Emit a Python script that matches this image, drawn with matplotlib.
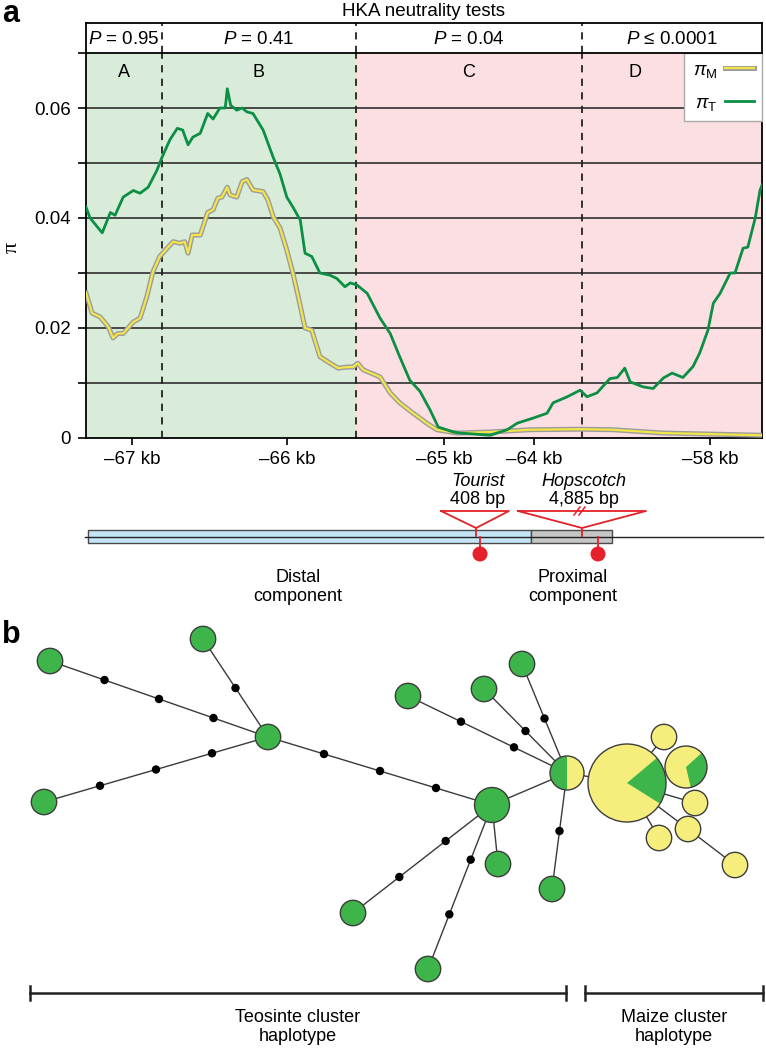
import numpy as np
import matplotlib
matplotlib.use('Agg')
import matplotlib.pyplot as plt
from matplotlib.patches import Circle, Wedge, Rectangle
from matplotlib.lines import Line2D

plt.rcParams['font.family'] = ['Liberation Sans', 'DejaVu Sans']
plt.rcParams['mathtext.fontset'] = 'custom'
plt.rcParams['mathtext.rm'] = 'Liberation Sans'
plt.rcParams['mathtext.it'] = 'Liberation Sans:italic'

# ---- panel a data (position along the window, 0-100) ----
pos_T = [0.0, 0.6, 2.4, 3.6, 4.3, 5.5, 7.0, 8.0, 9.2, 10.5, 11.2, 12.4, 13.5, 14.3,
         15.1, 15.8, 16.9, 18.0, 18.8, 19.8, 20.6, 20.9, 21.4, 22.3, 23.1, 23.8,
         24.7, 26.2, 27.7, 28.7, 29.7, 30.6, 31.7, 32.4, 33.4, 34.6, 36.1, 37.1,
         38.3, 39.1, 40.1, 41.6, 43.5, 45.0, 46.4, 47.9, 49.4, 50.9, 52.1, 54.3,
         55.3, 59.8, 62.3, 63.8, 66.1, 68.2, 69.1, 71.2, 73.1, 74.1, 75.6, 77.5,
         78.6, 79.7, 80.5, 82.4, 83.9, 85.4, 86.7, 88.3, 89.8, 90.8, 92.0, 92.8,
         93.8, 95.3, 96.0, 97.2, 97.9, 99.0, 99.7, 100.0]
pi_T = [0.042, 0.040, 0.0373, 0.041, 0.0405, 0.0438, 0.045, 0.0445, 0.0456, 0.0487,
        0.0509, 0.0542, 0.0563, 0.056, 0.0533, 0.0547, 0.0554, 0.059, 0.058, 0.060,
        0.060, 0.0635, 0.0605, 0.0596, 0.060, 0.0593, 0.059, 0.056, 0.051, 0.048,
        0.0438, 0.042, 0.0396, 0.0336, 0.033, 0.030, 0.0296, 0.029, 0.0275, 0.0282,
        0.0278, 0.0263, 0.0218, 0.019, 0.0148, 0.0105, 0.0085, 0.0051, 0.002, 0.0011,
        0.0009, 0.0005, 0.0015, 0.0027, 0.0036, 0.0045, 0.0064, 0.0075, 0.0087,
        0.0075, 0.0082, 0.0108, 0.011, 0.0127, 0.0102, 0.0093, 0.009, 0.0109, 0.0118,
        0.011, 0.013, 0.0155, 0.0196, 0.0245, 0.0263, 0.030, 0.030, 0.0345, 0.0347,
        0.040, 0.045, 0.046]

pos_M = [0.0, 0.9, 2.1, 3.3, 4.0, 4.7, 5.5, 7.0, 8.0, 9.0, 9.9, 10.9, 12.0, 12.9,
         13.9, 14.6, 15.1, 15.7, 16.9, 17.3, 18.0, 18.8, 19.5, 20.1, 20.9, 21.3,
         22.3, 23.1, 23.8, 24.7, 26.2, 26.9, 27.7, 28.7, 29.7, 30.6, 31.4, 32.4,
         33.4, 34.6, 36.1, 37.3, 38.6, 39.5, 40.2, 41.0, 43.5, 45.0, 46.4, 48.4,
         50.4, 51.9, 54.9, 59.8, 65.7, 73.1, 78.0, 85.4, 92.8, 100.0]
pi_M = [0.0264, 0.0227, 0.022, 0.0202, 0.0182, 0.019, 0.019, 0.0211, 0.0218, 0.0257,
        0.0302, 0.033, 0.0345, 0.0357, 0.0354, 0.0357, 0.0336, 0.0369, 0.0369, 0.0384,
        0.041, 0.0415, 0.0436, 0.0438, 0.0456, 0.0442, 0.0438, 0.0466, 0.047, 0.0451,
        0.0448, 0.0433, 0.0402, 0.0382, 0.0342, 0.030, 0.0257, 0.020, 0.0196, 0.0148,
        0.0136, 0.0127, 0.0129, 0.0129, 0.0136, 0.0124, 0.0111, 0.0082, 0.0064,
        0.0045, 0.0027, 0.0015, 0.0009, 0.0011, 0.0015, 0.0016, 0.0015, 0.0009,
        0.0007, 0.0005]

region_edges = [0.0, 11.2, 39.9, 73.4, 100.0]
region_names = ['A', 'B', 'C', 'D']
p_labels = [r'$P$ = 0.95', r'$P$ = 0.41', r'$P$ = 0.04', r'$P$ ≤ 0.0001']
tick_pos = [6.8, 29.7, 53.0, 66.3, 92.3]
tick_labels = ['–67 kb', '–66 kb', '–65 kb', '–64 kb', '–58 kb']

# ---- gene model (pixel layout of the lower sketch) ----
te_names = ['Tourist', 'Hopscotch']
te_sizes = ['408 bp', '4,885 bp']
te_site = [476, 582]
te_span = [(441, 509), (518, 646)]
te_pin = [480, 598]

# ---- panel b haplotype network ----
node_xy = {
    'g1': (50, 661), 'g2': (203, 639), 'h1': (268, 737), 'g3': (44, 802),
    'h2': (492, 805), 'ga': (408, 696), 'gb': (484, 689), 'gc': (522, 664),
    'gd': (552, 889), 'ge': (498, 864), 'gf': (428, 969), 'gg': (353, 913),
    'half': (567, 773), 'big': (627, 783), 'wedge': (686, 767),
    'y1': (664, 737), 'y2': (695, 803), 'y3': (688, 829), 'y4': (659, 838),
    'y5': (735, 865),
}
node_r = {'h2': 17.5, 'half': 17, 'big': 39, 'wedge': 21}
# share of teosinte (green) per node, with screen angle where the green part starts
node_green = {'half': (0.5, 90), 'big': (0.20, -32), 'wedge': (0.33, -77)}
maize_only = ['y1', 'y2', 'y3', 'y4', 'y5']
edges = [('g1', 'h1', 3), ('g2', 'h1', 1), ('g3', 'h1', 3), ('h1', 'h2', 3),
         ('ga', 'half', 2), ('gb', 'half', 1), ('gc', 'half', 1), ('gd', 'half', 1),
         ('h2', 'half', 0), ('ge', 'h2', 0), ('gf', 'h2', 2), ('gg', 'h2', 2),
         ('half', 'big', 0), ('big', 'y1', 0), ('big', 'wedge', 0), ('big', 'y2', 0),
         ('big', 'y3', 0), ('big', 'y4', 0), ('y3', 'y5', 0)]

GREEN_LINE = '#0b8f45'
NODE_GREEN = '#3db54a'
NODE_YELLOW = '#f6ee7c'
W, H = 766, 1050


def px_box(x0, y0, x1, y1):
    return [x0 / W, 1 - y1 / H, (x1 - x0) / W, (y1 - y0) / H]


fig = plt.figure(figsize=(W / 100, H / 100), dpi=100)

# canvas in pixel coordinates for the sketch parts
cv = fig.add_axes([0, 0, 1, 1])
cv.set_xlim(0, W)
cv.set_ylim(H, 0)
cv.axis('off')

ax = fig.add_axes(px_box(86, 53, 762, 438))
hdr = fig.add_axes(px_box(86, 23, 762, 53))

# shaded regions
ax.axvspan(region_edges[0], region_edges[2], color='#d9ecda', zorder=0, lw=0)
ax.axvspan(region_edges[2], region_edges[4], color='#fbdfe3', zorder=0, lw=0)
for yv in np.arange(0.01, 0.07, 0.01):
    ax.axhline(yv, color='#2e2e2e', lw=1.2, zorder=1)
for xv in region_edges[1:-1]:
    ax.axvline(xv, color='#222222', lw=1.3, ls=(0, (4, 3.5)), zorder=1.5)
    hdr.axvline(xv, color='#222222', lw=1.3, ls=(0, (4, 3.5)))

ax.plot(pos_M, pi_M, color='#9c9c9c', lw=3.6, zorder=3, solid_joinstyle='round')
ax.plot(pos_M, pi_M, color='#f3e54a', lw=1.6, zorder=3.1, solid_joinstyle='round')
ax.plot(pos_T, pi_T, color=GREEN_LINE, lw=2.0, zorder=3.2, solid_joinstyle='round')

letter_mid = [(region_edges[i] + region_edges[i + 1]) / 2 for i in range(3)] + [81.2]
for xm, nm in zip(letter_mid, region_names):
    ax.text(xm, 0.0665, nm, ha='center', va='center', fontsize=13)

ax.set_xlim(0, 100)
ax.set_ylim(0, 0.07)
ax.set_yticks(np.arange(0, 0.071, 0.01))
ax.set_yticklabels(['0', '', '0.02', '', '0.04', '', '0.06', ''])
ax.set_xticks(tick_pos)
ax.set_xticklabels(tick_labels)
ax.tick_params(axis='y', direction='out', length=6, width=1.2, pad=5, labelsize=13.5)
ax.tick_params(axis='x', direction='out', length=5, width=1.2, pad=4, labelsize=13.5)
for s in ax.spines.values():
    s.set_linewidth(1.3)
ax.spines['top'].set_visible(False)

hM = (Line2D([], [], color='#9c9c9c', lw=3.6), Line2D([], [], color='#f3e54a', lw=1.6))
hT = Line2D([], [], color=GREEN_LINE, lw=2.0)
leg = ax.legend([hM, hT], [r'$\pi_{\mathrm{M}}$', r'$\pi_{\mathrm{T}}$'],
                loc='upper right', bbox_to_anchor=(1.0, 1.0), borderaxespad=0,
                markerfirst=False, fancybox=False, framealpha=1, edgecolor='#aaaaaa',
                fontsize=13.5, handlelength=1.5, handletextpad=0.45, labelspacing=0.8,
                borderpad=0.45)
leg.get_frame().set_linewidth(1.0)

# header with P values
hdr.set_xlim(0, 100)
hdr.set_ylim(0, 1)
hdr.set_xticks([])
hdr.set_yticks([])
for s in hdr.spines.values():
    s.set_linewidth(1.3)
for i, lab in enumerate(p_labels):
    xm = (region_edges[i] + region_edges[i + 1]) / 2
    hdr.text(xm, 0.45, lab, ha='center', va='center', fontsize=13.5)

fig.text(424 / W, 1 - 12 / H, 'HKA neutrality tests', ha='center', va='center', fontsize=13.5)
fig.text(2 / W, 1 - 22 / H, 'a', ha='left', va='baseline', fontsize=22, fontweight='bold')
fig.text(2 / W, 1 - 643 / H, 'b', ha='left', va='baseline', fontsize=22, fontweight='bold')
fig.text(12 / W, 1 - 247 / H, 'π', rotation=90, ha='center', va='center', fontsize=16,
         family='Liberation Serif')

# ---- gene model ----
red = '#e52229'
cv.add_patch(Rectangle((88, 530), 443, 13, fc='#c3e5f6', ec='#4a4a4a', lw=1.0, zorder=2))
cv.add_patch(Rectangle((531, 530), 81, 13, fc='#c6c6c6', ec='#4a4a4a', lw=1.0, zorder=2))
cv.plot([85, 763], [536.5, 536.5], color='#222222', lw=1.0, zorder=3)
for name, size, site, (l, r), pin in zip(te_names, te_sizes, te_site, te_span, te_pin):
    cv.plot([l, r, site, l], [511, 511, 528, 511], color=red, lw=1.3, zorder=4)
    cv.plot([site, site], [528, 536], color=red, lw=1.3, zorder=4)
    cv.plot([pin, pin], [537, 550], color=red, lw=1.3, zorder=4)
    cv.add_patch(Circle((pin, 554), 7.5, fc=red, ec='none', zorder=4))
    cv.text(site + 2, 481, name, ha='center', va='center', fontsize=13, style='italic')
    cv.text(site + 2, 499, size, ha='center', va='center', fontsize=13)
# break mark on the long insertion
for dx in (-4, 1):
    cv.plot([578 + dx, 584 + dx], [515, 507], color=red, lw=1.1, zorder=5)
cv.text(298, 587, 'Distal\ncomponent', ha='center', va='center', fontsize=13,
        linespacing=1.15)
cv.text(573, 587, 'Proximal\ncomponent', ha='center', va='center', fontsize=13,
        linespacing=1.15)

# ---- haplotype network ----
for a, b, nd in edges:
    (x0, y0), (x1, y1) = node_xy[a], node_xy[b]
    cv.plot([x0, x1], [y0, y1], color='#3a3a3a', lw=1.0, zorder=2)
    for k in range(1, nd + 1):
        t = k / (nd + 1)
        cv.add_patch(Circle((x0 + t * (x1 - x0), y0 + t * (y1 - y0)), 4.2,
                            fc='black', ec='none', zorder=3))

for key, (x, y) in node_xy.items():
    r = node_r.get(key, 12.7)
    if key in node_green:
        frac, start = node_green[key]
        # y axis is inverted, so screen angles flip sign
        a1, a2 = start, start + frac * 360
        cv.add_patch(Circle((x, y), r, fc=NODE_YELLOW, ec='none', zorder=4))
        cv.add_patch(Wedge((x, y), r, -a2, -a1, fc=NODE_GREEN, ec='none', zorder=4.1))
        cv.add_patch(Circle((x, y), r, fc='none', ec='#3d3d3d', lw=1.0, zorder=4.2))
    else:
        fc = NODE_YELLOW if key in maize_only else NODE_GREEN
        cv.add_patch(Circle((x, y), r, fc=fc, ec='#3d3d3d', lw=1.0, zorder=4))

# cluster brackets
for x0, x1, lab in [(30, 566, 'Teosinte cluster\nhaplotype'),
                    (585, 763, 'Maize cluster\nhaplotype')]:
    cv.plot([x0, x1], [993, 993], color='#222222', lw=1.8)
    cv.plot([x0, x0], [986, 1000], color='#222222', lw=1.8)
    cv.plot([x1, x1], [986, 1000], color='#222222', lw=1.8)
    cv.text((x0 + x1) / 2, 1027, lab, ha='center', va='center',
            fontsize=13, linespacing=1.15)

fig.savefig('out.png', dpi=100)
